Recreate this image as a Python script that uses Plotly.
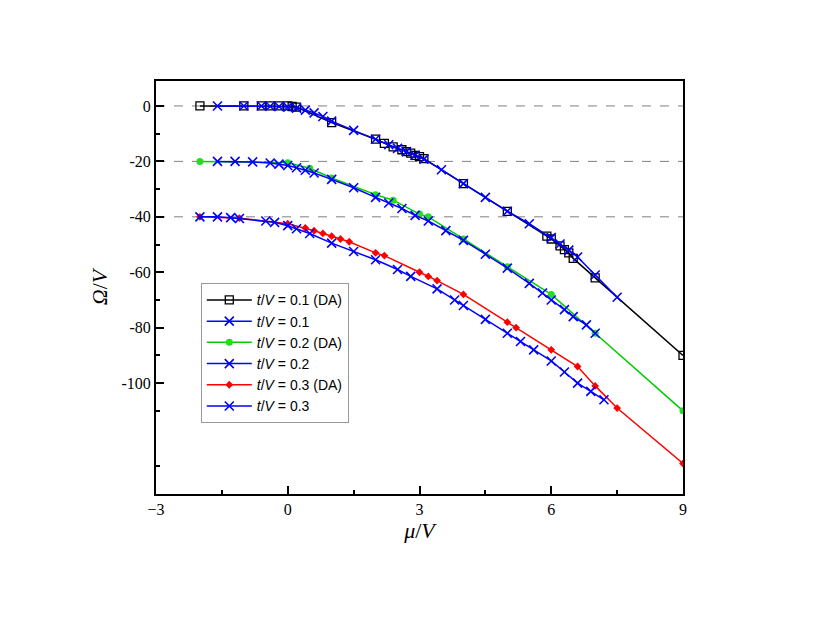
import plotly.graph_objects as go

# t/V = 0.1 (DA)
x1_da = [-2, -1, -0.6, -0.4, -0.2, 0, 0.1, 0.2, 1, 2, 2.2, 2.4, 2.6, 2.7, 2.8, 2.9, 3.0, 3.1, 4, 5, 5.9, 6.0, 6.2, 6.3, 6.4, 6.5, 7, 9]
y1_da = [0, 0, 0, 0, 0, 0, -0.2, -0.4, -6, -12, -13.5, -14.8, -15.8, -16.5, -17, -17.8, -18.3, -19, -28, -38, -47, -48, -50.5, -51.8, -53, -55, -62, -90]
# t/V = 0.1
x1 = [-1.6, -1.0, -0.6, -0.4, -0.2, 0, 0.2, 0.4, 0.6, 0.8, 1.0, 1.5, 2.0, 2.3, 2.5, 2.7, 2.9, 3.1, 3.5, 4.0, 4.5, 5.0, 5.5, 6.0, 6.2, 6.4, 6.6, 7.0, 7.5]
y1 = [0, 0, 0, -0.1, -0.2, -0.4, -0.8, -1.5, -2.5, -3.8, -5.5, -8.8, -12, -14, -15.3, -16.5, -17.8, -19.2, -23, -28, -33, -38, -42.5, -47.5, -49.8, -52, -54.5, -61, -69]
# t/V = 0.2 (DA)
x2_da = [-2, 0, 0.5, 1, 2, 2.4, 3, 3.2, 4, 5, 6, 7, 9]
y2_da = [-20, -20.5, -22.5, -26, -32, -34, -39, -40, -48, -58, -68, -82, -110]
# t/V = 0.2
x2 = [-1.6, -1.2, -0.8, -0.4, -0.2, 0, 0.2, 0.4, 0.6, 1.0, 1.5, 2.0, 2.3, 2.6, 2.9, 3.2, 3.6, 4.0, 4.5, 5.0, 5.5, 5.8, 6.0, 6.3, 6.5, 6.8, 7.0]
y2 = [-20, -20, -20.2, -20.6, -21, -21.5, -22.3, -23.2, -24.2, -26.5, -29.5, -33, -35, -37, -39.5, -41.5, -45, -48.5, -53.5, -58.5, -64, -67.5, -70, -73.5, -76, -79, -82]
# t/V = 0.3 (DA)
x3_da = [-2, -1.1, 0, 0.4, 0.6, 0.8, 1.0, 1.2, 1.4, 2, 2.2, 3, 3.2, 3.4, 4, 5, 5.2, 6, 6.6, 7.0, 7.5, 9]
y3_da = [-40, -40.5, -42.5, -44, -45, -46, -47, -48, -49, -53, -54, -60, -61.5, -63, -68, -78, -80, -88, -94, -101, -109, -129]
# t/V = 0.3
x3 = [-2.0, -1.6, -1.3, -1.1, -0.5, -0.3, 0, 0.2, 0.5, 1.0, 1.5, 2.0, 2.5, 2.8, 3.4, 3.8, 4.0, 4.5, 5.0, 5.3, 5.6, 6.0, 6.3, 6.6, 6.9, 7.2]
y3 = [-40, -40, -40.3, -40.6, -41.5, -42, -43.2, -44.3, -46, -49.5, -52.5, -55.5, -59, -61.5, -66, -70, -72, -77, -82, -85, -88, -92, -96, -100, -103, -106]

font = "Liberation Serif"
xmark = dict(symbol="x-thin", size=9, color="blue", line=dict(width=1.6, color="blue"))
fig = go.Figure()
fig.add_trace(go.Scatter(x=x1_da, y=y1_da, mode="lines+markers", name="<i>t</i>/<i>V</i> = 0.1 (DA)",
                         line=dict(color="black", width=1.5),
                         marker=dict(symbol="square-open", size=8, color="black", line=dict(width=1.3))))
fig.add_trace(go.Scatter(x=x1, y=y1, mode="lines+markers", name="<i>t</i>/<i>V</i> = 0.1",
                         line=dict(color="blue", width=1.5), marker=xmark))
fig.add_trace(go.Scatter(x=x2_da, y=y2_da, mode="lines+markers", name="<i>t</i>/<i>V</i> = 0.2 (DA)",
                         line=dict(color="#00cc00", width=1.5),
                         marker=dict(symbol="circle", size=7, color="#22dd22")))
fig.add_trace(go.Scatter(x=x2, y=y2, mode="lines+markers", name="<i>t</i>/<i>V</i> = 0.2",
                         line=dict(color="blue", width=1.5), marker=xmark))
fig.add_trace(go.Scatter(x=x3_da, y=y3_da, mode="lines+markers", name="<i>t</i>/<i>V</i> = 0.3 (DA)",
                         line=dict(color="red", width=1.5),
                         marker=dict(symbol="diamond", size=6, color="red")))
fig.add_trace(go.Scatter(x=x3, y=y3, mode="lines+markers", name="<i>t</i>/<i>V</i> = 0.3",
                         line=dict(color="blue", width=1.5), marker=xmark))

for yv in [0, -20, -40]:
    fig.add_hline(y=yv, line=dict(color="gray", width=1, dash="dash"), layer="below")

axis_common = dict(showgrid=False, zeroline=False, showline=True, linecolor="black", linewidth=2,
                   mirror=True, ticks="inside", ticklen=8, tickwidth=1.5, tickcolor="black",
                   tickfont=dict(family=font, size=16, color="black"))
fig.update_xaxes(range=[-3, 9], tickvals=[-3, 0, 3, 6, 9],
                 minor=dict(tickvals=[-1.5, 1.5, 4.5, 7.5], ticks="inside", ticklen=4, tickcolor="black"),
                 title=dict(text="<i>μ</i>/<i>V</i>", font=dict(family=font, size=22, color="black"), standoff=5),
                 **axis_common)
fig.update_yaxes(range=[-140, 9], tickvals=[0, -20, -40, -60, -80, -100],
                 ticktext=["0", "-20", "-40", "-60", "-80", "-100"],
                 minor=dict(tickvals=[-10, -30, -50, -70, -90, -110, -130], ticks="inside", ticklen=4, tickcolor="black"),
                 title=dict(text="<i>Ω</i>/<i>V</i>", font=dict(family=font, size=22, color="black"), standoff=8),
                 **axis_common)
fig.update_layout(width=817, height=632, plot_bgcolor="white", paper_bgcolor="white",
                  margin=dict(l=148, r=142, t=73, b=146),
                  legend=dict(x=0.085, y=0.51, xanchor="left", yanchor="top", bordercolor="#999", borderwidth=1,
                              bgcolor="white", font=dict(family="Liberation Sans", size=14, color="black"),
                              tracegroupgap=6, itemwidth=45))
fig.write_html("out.html")
